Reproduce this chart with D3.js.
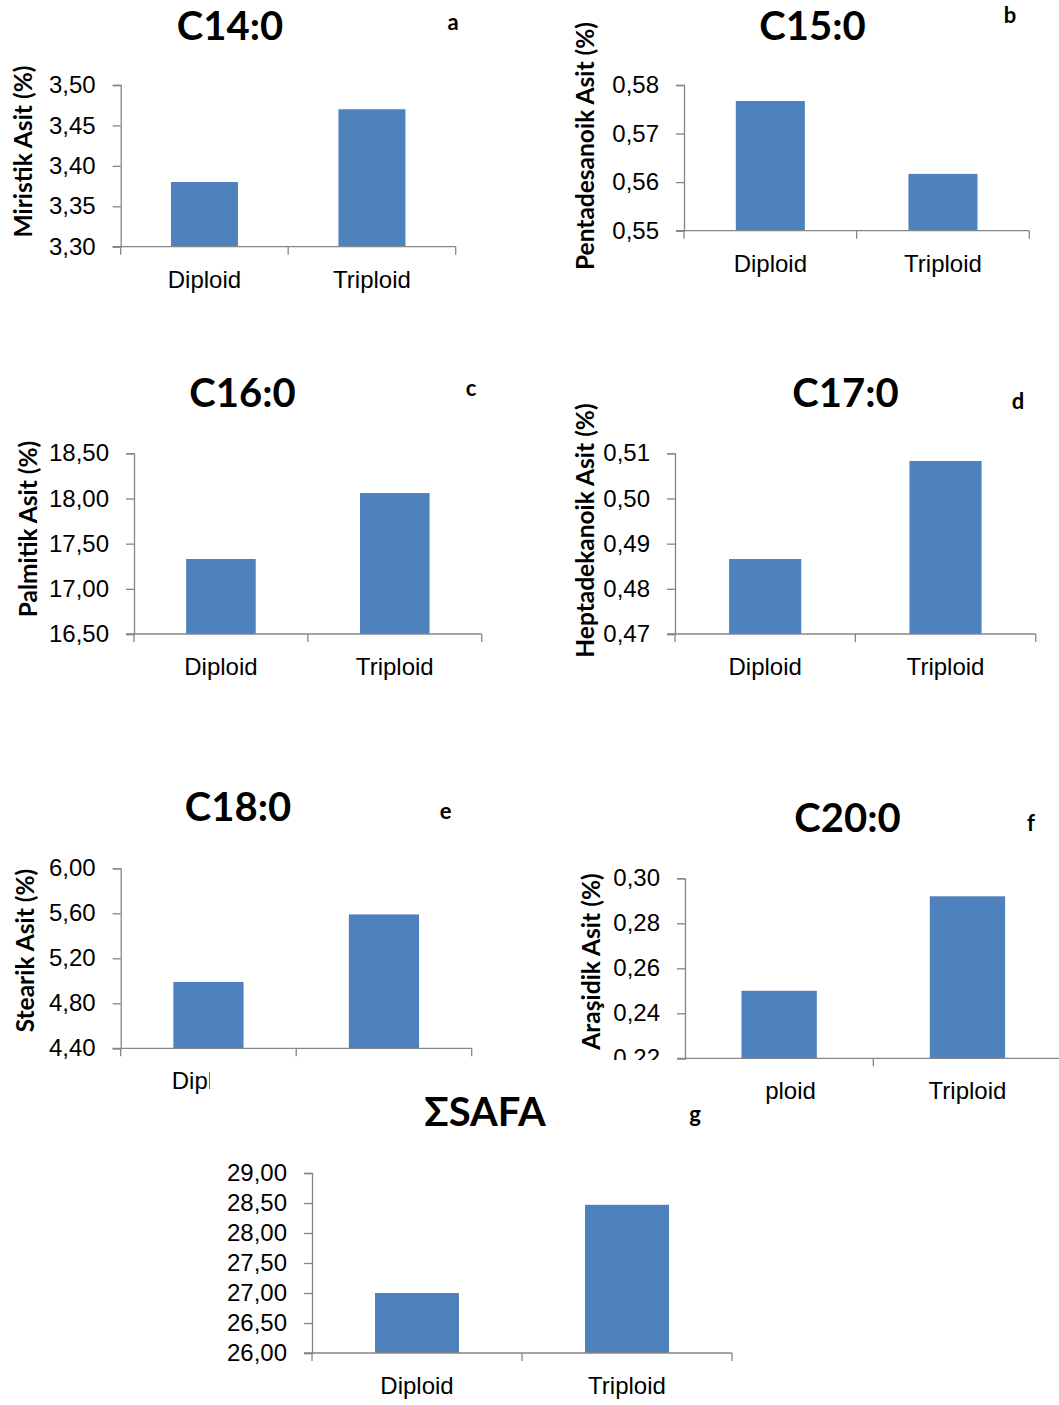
<!DOCTYPE html>
<html>
<head>
<meta charset="utf-8">
<script src="https://cdn.jsdelivr.net/npm/d3@7"></script>
<style>
  body { margin: 0; background: #fff; }
  svg { display: block; font-family: Lato, "Open Sans", sans-serif; }
</style>
</head>
<body>
<svg id="chart" width="1059" height="1405"></svg>
<script>
// categories shared by all panels
const categories = ["Diploid", "Triploid"];

// panel titles, letters and y axis labels
const titles = ["C14:0", "C15:0", "C16:0", "C17:0", "C18:0", "C20:0", "ΣSAFA"];
const letters = ["a", "b", "c", "d", "e", "f", "g"];
const yLabels = ["Miristik Asit (%)", "Pentadesanoik Asit (%)", "Palmitik Asit (%)",
  "Heptadekanoik Asit (%)", "Stearik Asit (%)", "Araşidik Asit (%)", ""];

// values (Diploid, Triploid)
const c14 = [3.38, 3.47];
const c15 = [0.5767, 0.5617];
const c16 = [17.33, 18.06];
const c17 = [0.4866, 0.5083];
const c18 = [4.99, 5.59];
const c20 = [0.250, 0.292];
const safa = [27.00, 28.47];
const seriesValues = [c14, c15, c16, c17, c18, c20, safa];

// y tick values for each panel
const ticksC14 = [3.30, 3.35, 3.40, 3.45, 3.50];
const ticksC15 = [0.55, 0.56, 0.57, 0.58];
const ticksC16 = [16.50, 17.00, 17.50, 18.00, 18.50];
const ticksC17 = [0.47, 0.48, 0.49, 0.50, 0.51];
const ticksC18 = [4.40, 4.80, 5.20, 5.60, 6.00];
const ticksC20 = [0.22, 0.24, 0.26, 0.28, 0.30];
const ticksSafa = [26.00, 26.50, 27.00, 27.50, 28.00, 28.50, 29.00];
const yTicks = [ticksC14, ticksC15, ticksC16, ticksC17, ticksC18, ticksC20, ticksSafa];

// where each panel sits on the page
const layout = [
  { x0: 120.7, x1: 455.7, yTop: 85, yBot: 246.7, tx: 230, ty: 39.5, lx: 453, ly: 30, ax: 23, ay: 151.5 },
  { x0: 684, x1: 1029.3, yTop: 85, yBot: 230.7, tx: 812.5, ty: 39.5, lx: 1010, ly: 23, ax: 585, ay: 146 },
  { x0: 134, x1: 481.7, yTop: 453.3, yBot: 634, tx: 242.5, ty: 406.7, lx: 471, ly: 396, ax: 28, ay: 529 },
  { x0: 675, x1: 1035.7, yTop: 453.3, yBot: 634, tx: 845.5, ty: 406.7, lx: 1018, ly: 409, ax: 585, ay: 530.5 },
  { x0: 120.7, x1: 471.7, yTop: 868.3, yBot: 1048.3, tx: 238, ty: 820.7, lx: 445.7, ly: 819, ax: 25, ay: 950.5 },
  { x0: 685, x1: 1061.6, yTop: 878.3, yBot: 1058.3, tx: 847.5, ty: 831.7, lx: 1031, ly: 830.7, ax: 591.7, ay: 961.5 },
  { x0: 312, x1: 732, yTop: 1173, yBot: 1353, tx: 485, ty: 1126, lx: 695, ly: 1122, ax: 0, ay: 0 }
];

const locale = d3.formatLocale({ decimal: ",", thousands: ".", grouping: [3], currency: ["", ""] });
const fmt = locale.format(".2f");

const AXIS = "#868686";
const BAR = "#4F81BD";

const svg = d3.select("#chart");

function drawPanel(i) {
  const L = layout[i];
  const vals = seriesValues[i];
  const ticks = yTicks[i];
  const g = svg.append("g");

  // the last panel covers part of the ones above with its white chart area
  if (i === 6) {
    g.append("rect")
      .attr("x", 210).attr("y", 1060)
      .attr("width", 556).attr("height", 345)
      .attr("fill", "#fff");
  }

  const x = d3.scaleBand()
    .domain(categories)
    .range([L.x0, L.x1])
    .paddingInner(0.6)
    .paddingOuter(0.3);

  const y = d3.scaleLinear()
    .domain([ticks[0], ticks[ticks.length - 1]])
    .range([L.yBot, L.yTop]);

  // bars
  g.selectAll("rect.bar")
    .data(vals)
    .join("rect")
    .attr("class", "bar")
    .attr("x", (d, j) => x(categories[j]))
    .attr("width", x.bandwidth())
    .attr("y", d => y(d))
    .attr("height", d => y(ticks[0]) - y(d))
    .attr("fill", BAR);

  // y axis
  const yAxis = g.append("g")
    .attr("transform", `translate(${L.x0},0)`)
    .call(d3.axisLeft(y).tickValues(ticks).tickFormat(fmt).tickSize(8).tickPadding(17));
  yAxis.select(".domain").attr("stroke", AXIS).attr("stroke-width", 1.3);
  yAxis.selectAll(".tick line").attr("stroke", AXIS).attr("stroke-width", 1.3);
  yAxis.selectAll(".tick text")
    .attr("font-size", 24)
    .attr("fill", "#000");

  // x axis: labels at category centres, ticks between categories
  const xAxis = g.append("g")
    .attr("transform", `translate(0,${L.yBot})`)
    .call(d3.axisBottom(x).tickSize(0).tickPadding(24));
  xAxis.select(".domain").remove();
  xAxis.selectAll(".tick text")
    .attr("font-size", 24)
    .attr("fill", "#000");

  g.append("line")
    .attr("x1", L.x0 - 8).attr("x2", L.x1)
    .attr("y1", L.yBot).attr("y2", L.yBot)
    .attr("stroke", AXIS).attr("stroke-width", 1.3);

  const step = x.step();
  const bounds = d3.range(categories.length + 1).map(k => L.x0 + k * step);
  g.selectAll("line.xtick")
    .data(bounds)
    .join("line")
    .attr("class", "xtick")
    .attr("x1", d => d).attr("x2", d => d)
    .attr("y1", L.yBot).attr("y2", L.yBot + 8)
    .attr("stroke", AXIS).attr("stroke-width", 1.3);

  // title and panel letter
  g.append("text")
    .attr("x", L.tx).attr("y", L.ty)
    .attr("text-anchor", "middle")
    .attr("font-size", 40)
    .attr("font-weight", "bold")
    .text(titles[i]);

  g.append("text")
    .attr("x", L.lx).attr("y", L.ly)
    .attr("text-anchor", "middle")
    .attr("font-size", 22)
    .attr("font-weight", "bold")
    .text(letters[i]);

  // y axis title
  if (yLabels[i]) {
    g.append("text")
      .attr("transform", `translate(${L.ax},${L.ay}) rotate(-90)`)
      .attr("text-anchor", "middle")
      .attr("dy", "0.35em")
      .attr("font-size", 24.5)
      .attr("font-weight", "bold")
      .text(yLabels[i]);
  }
}

titles.forEach((t, i) => drawPanel(i));
</script>
</body>
</html>
